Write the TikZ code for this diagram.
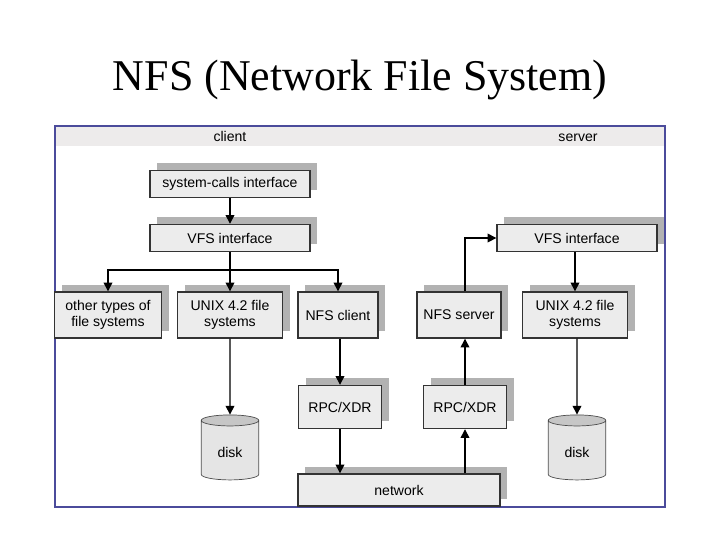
\documentclass[tikz,border=0pt]{standalone}
\usepackage{fontspec}
\setmainfont{Liberation Serif}
\setsansfont{Liberation Sans}
\usetikzlibrary{arrows.meta,positioning,shapes.geometric,shadows}

\begin{document}
\begin{tikzpicture}[x=0.02cm,y=-0.02cm,
    layer/.style={draw=black!80,thick,fill=gray!15,font=\sffamily\fontsize{8}{9}\selectfont,
      align=center,inner sep=1pt,
      drop shadow={shadow xshift=4pt,shadow yshift=4pt,fill=gray!60,opacity=1}},
    disk/.style={cylinder,shape border rotate=90,aspect=0.3,draw=black!70,
      minimum width=1.15cm,minimum height=1.3cm,cylinder uses custom fill,
      cylinder body fill=gray!20,cylinder end fill=gray!45,
      font=\sffamily\fontsize{8}{9}\selectfont},
    label/.style={font=\sffamily\fontsize{8}{9}\selectfont,text depth=0pt,anchor=base},
    link/.style={-{Triangle[length=5pt,width=5pt]},thick}]
    \useasboundingbox (0,0) rectangle (720,539);

    \node[font=\fontsize{25}{28}\selectfont] (title) at (360,80) {NFS (Network File System)};

    % frame and header band
    \draw[fill=white,draw=blue!35!gray!90!black,thick] (55,126) rectangle (665,507);
    \fill[red!5!gray!15] (56,127) rectangle (664,146);
    \node[label] (client) at (230,141) {client};
    \node[label] (server) at (578,141) {server};

    % client side
    \node[layer,minimum width=3.2cm,minimum height=0.54cm] (syscall) at (230,184) {system-calls interface};
    \node[layer,minimum width=3.2cm,minimum height=0.54cm] (cvfs) at (230,238) {VFS interface};
    \node[layer,minimum width=2.14cm,minimum height=0.92cm] (other) at (108,315) {other types of\\file systems};
    \node[layer,minimum width=2.1cm,minimum height=0.92cm] (cunix) at (230,315) {UNIX 4.2 file\\systems};
    \node[layer,minimum width=1.6cm,minimum height=0.92cm] (nfsc) at (338,315) {NFS client};
    \node[layer,minimum width=1.66cm,minimum height=0.86cm] (crpc) at (340,407) {RPC/XDR};
    \node[disk] (cdisk) at (230,452) {disk};

    % server side
    \node[layer,minimum width=1.68cm,minimum height=0.92cm] (nfss) at (459,315) {NFS server};
    \node[layer,minimum width=3.2cm,minimum height=0.54cm] (svfs) at (577,238) {VFS interface};
    \node[layer,minimum width=2.1cm,minimum height=0.92cm] (sunix) at (575,315) {UNIX 4.2 file\\systems};
    \node[layer,minimum width=1.66cm,minimum height=0.86cm] (srpc) at (465,407) {RPC/XDR};
    \node[disk] (sdisk) at (577,452) {disk};

    \node[layer,minimum width=4.04cm,minimum height=0.64cm] (network) at (399,490) {network};

    % connectors
    \coordinate (bus) at (230,270);
    \draw[link] (syscall) -- (cvfs);
    \draw[thick] (cvfs) -- (bus);
    \draw[link] (bus) -| (other);
    \draw[link] (bus) -- (cunix);
    \draw[link] (bus) -| (nfsc);
    \draw[link] (cunix) -- (cdisk);
    \draw[link] (nfsc.south -| crpc) -- (crpc);
    \draw[link] (crpc) -- (crpc |- network.north);
    \draw[link] (srpc |- network.north) -- (srpc);
    \draw[link] (srpc) -- (srpc |- nfss.south);
    \draw[link] (nfss.north -| srpc) |- (svfs);
    \draw[link] (svfs.south -| sunix) -- (sunix);
    \draw[link] (sunix.south -| sdisk) -- (sdisk);
\end{tikzpicture}
\end{document}
